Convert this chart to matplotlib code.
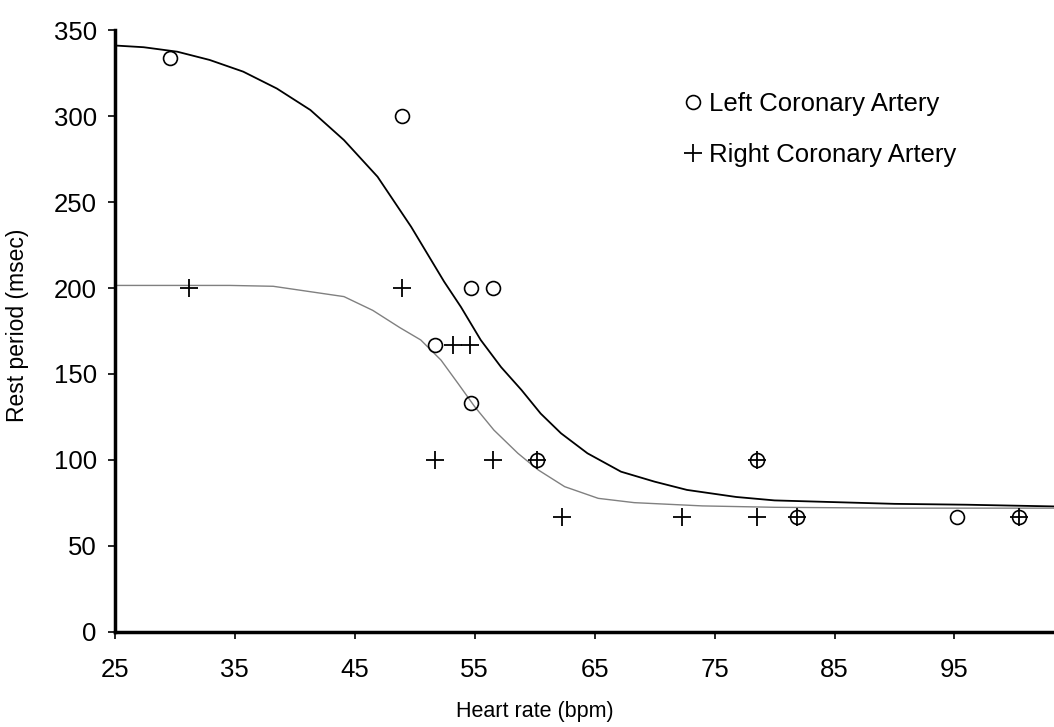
import matplotlib
matplotlib.use("Agg")
import matplotlib.pyplot as plt

plt.rcParams['font.family'] = ['Liberation Sans', 'DejaVu Sans']

# measured points
left_hr = [29.6, 48.9, 54.7, 56.5, 51.7, 54.7, 60.2, 78.5, 81.9, 95.2, 100.4]
left_rest = [334, 300, 200, 200, 167, 133, 100, 100, 67, 67, 67]

right_hr = [31.2, 48.9, 53.2, 54.6, 51.7, 56.5, 60.2, 78.5, 62.25, 72.25, 78.5, 81.9, 100.4]
right_rest = [200, 200, 167, 167, 100, 100, 100, 100, 67, 67, 67, 67, 67]

# fitted curves
left_fit_x = [25, 27.4, 30.2, 32.9, 35.7, 38.5, 41.3, 44.1, 46.9, 49.7, 52.45,
              53.85, 55.5, 57.2, 58.9, 60.5, 62.2, 64.4, 67.2, 70, 72.7, 76.8,
              80, 85, 90, 96, 103.3]
left_fit_y = [341, 340, 337.4, 332.6, 325.8, 316, 303.5, 286, 264.7, 235.6, 203.7,
              189, 169.8, 154, 140.7, 127, 115.5, 103.9, 93.2, 87.4, 82.6, 78.5,
              76.5, 75.5, 74.5, 74, 73]

right_fit_x = [25, 31, 34.6, 38.2, 44.1, 46.5, 48.75, 50.5, 52.2, 53.6, 55,
               56.6, 58.6, 60.3, 62.5, 65.3, 68.3, 74, 80, 90, 103.3]
right_fit_y = [201.5, 201.5, 201.5, 201, 195, 187, 177, 169.8, 158, 144.6, 131,
               117.4, 103.9, 94.2, 84.5, 77.7, 75.2, 73.3, 72.5, 72, 72]

fig = plt.figure(figsize=(10.54, 7.27), dpi=100)
ax = fig.add_axes([0.109, 0.1307, 0.891, 0.828])

ax.plot(left_fit_x, left_fit_y, color='black', lw=1.3)
ax.plot(right_fit_x, right_fit_y, color='#808080', lw=1.0)

ax.plot(left_hr, left_rest, ls='none', marker='o', ms=10, mfc='none',
        mec='black', mew=1.2, label='Left Coronary Artery')
ax.plot(right_hr, right_rest, ls='none', marker='+', ms=13, mec='black',
        mew=1.3, label='Right Coronary Artery')

ax.set_xlim(25, 103.3)
ax.set_ylim(0, 350)
ax.set_xticks(range(25, 100, 10))
ax.set_yticks(range(0, 351, 50))

for s in ['top', 'right']:
    ax.spines[s].set_visible(False)
for s in ['left', 'bottom']:
    ax.spines[s].set_linewidth(2.5)

ax.tick_params(direction='out', length=5, width=1.2, labelsize=18.5)
ax.tick_params(axis='y', pad=8)
ax.tick_params(axis='x', pad=14)
ax.set_xlabel('Heart rate (bpm)', fontsize=15.5)
ax.xaxis.set_label_coords(0.447, -0.115)
ax.set_ylabel('Rest period (msec)', fontsize=16.5)
ax.yaxis.set_label_coords(-0.091, 0.51)

ax.legend(loc='upper left', bbox_to_anchor=(0.590, 0.918), frameon=False,
          fontsize=18.5, handlelength=0.85, handletextpad=0.2, labelspacing=1.05,
          borderpad=0)

fig.savefig('out.png', dpi=100)
